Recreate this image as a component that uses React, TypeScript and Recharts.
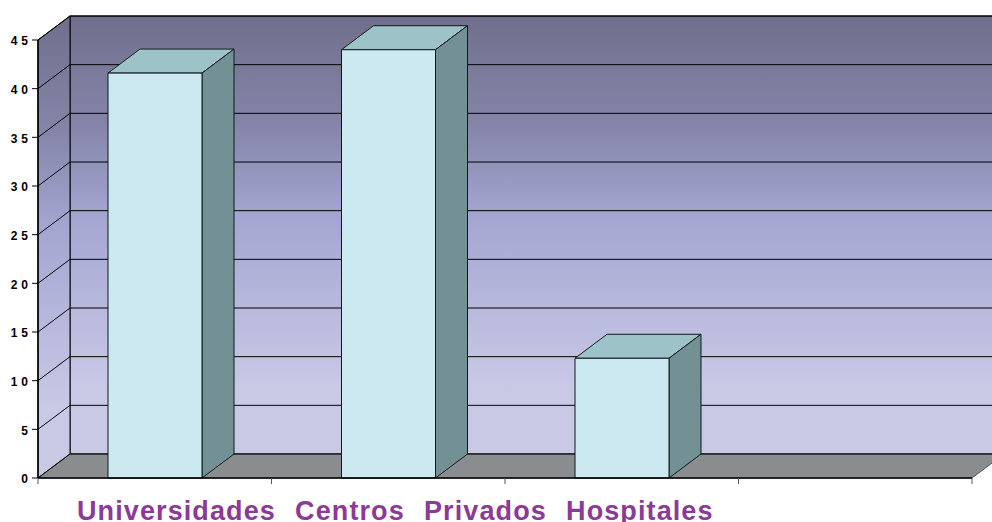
import { BarChart, Bar, XAxis, YAxis, CartesianGrid, ReferenceArea } from 'recharts';

const categories = ['Universidades', 'Centros  Privados', 'Hospitales', ''];
const counts = [41.6, 44, 12.3, null];
const yTicks = [0, 5, 10, 15, 20, 25, 30, 35, 40, 45];

const chartData = categories.map((name, i) => ({ name, count: counts[i] }));

const WIDTH = 992;
const HEIGHT = 522;
const LEFT = 38;
const RIGHT = 20;
const DEPTH_X = 32;
const DEPTH_Y = 24;
const BAND = (WIDTH - LEFT - RIGHT) / categories.length;

// back wall, left wall and floor of the 3D box
const Walls = ({ x, y, width, height }: any) => {
  const bottom = y + height;
  const right = x + width;
  return (
    <g>
      <defs>
        <linearGradient id="wall" x1="0" y1="0" x2="0" y2="1">
          <stop offset="0%" stopColor="#6f6f8c" />
          <stop offset="25%" stopColor="#8585a9" />
          <stop offset="45%" stopColor="#a3a5d1" />
          <stop offset="85%" stopColor="#c9c9e6" />
          <stop offset="100%" stopColor="#c9c9e6" />
        </linearGradient>
      </defs>
      <rect x={x + DEPTH_X} y={y - DEPTH_Y} width={width} height={height} fill="url(#wall)" stroke="#000" />
      <polygon
        points={`${x},${y} ${x + DEPTH_X},${y - DEPTH_Y} ${x + DEPTH_X},${bottom - DEPTH_Y} ${x},${bottom}`}
        fill="url(#wall)"
        stroke="#000"
      />
      <polygon
        points={`${x},${bottom} ${x + DEPTH_X},${bottom - DEPTH_Y} ${right + DEPTH_X},${bottom - DEPTH_Y} ${right},${bottom}`}
        fill="#8a8d90"
        stroke="#555"
      />
    </g>
  );
};

const GridLine = ({ x1, x2, y1 }: any) => (
  <polyline
    points={`${x1},${y1} ${x1 + DEPTH_X},${y1 - DEPTH_Y} ${x2 + DEPTH_X},${y1 - DEPTH_Y}`}
    fill="none"
    stroke="#000"
    strokeWidth={1}
  />
);

const Cuboid = ({ x, y, width, height }: any) => {
  if (!height) return null;
  const right = x + width;
  const bottom = y + height;
  return (
    <g stroke="#0d1a1c" strokeWidth={1} strokeLinejoin="round">
      <polygon
        points={`${x},${y} ${x + DEPTH_X},${y - DEPTH_Y} ${right + DEPTH_X},${y - DEPTH_Y} ${right},${y}`}
        fill="#9dc3c8"
      />
      <polygon
        points={`${right},${y} ${right + DEPTH_X},${y - DEPTH_Y} ${right + DEPTH_X},${bottom - DEPTH_Y} ${right},${bottom}`}
        fill="#739094"
      />
      <rect x={x} y={y} width={width} height={height} fill="#cce9f2" />
    </g>
  );
};

const CategoryTick = ({ x, y, index }: any) => (
  <g>
    <line x1={x - BAND / 2} x2={x - BAND / 2} y1={y - 8} y2={y - 2} stroke="#555" />
    {index === categories.length - 1 && (
      <line x1={x + BAND / 2} x2={x + BAND / 2} y1={y - 8} y2={y - 2} stroke="#555" />
    )}
    {index === 0 && (
      <text
        x={x - BAND / 2 + 39}
        y={y + 34}
        fill="#8b3a96"
        fontFamily="Liberation Sans"
        fontWeight="bold"
        fontSize={27}
        letterSpacing={1.1}
        wordSpacing={1}
        style={{ whiteSpace: 'pre' }}
      >
        {categories.join('  ').trim()}
      </text>
    )}
  </g>
);

export default function App() {
  return (
    <div style={{ position: 'absolute', left: 0, top: 0, width: WIDTH, height: HEIGHT, overflow: 'hidden' }}>
      <BarChart
        width={WIDTH}
        height={HEIGHT}
        data={chartData}
        margin={{ top: 40, right: RIGHT, bottom: 0, left: 0 }}
      >
        <ReferenceArea y1={0} y2={45} shape={<Walls />} zIndex={-200} ifOverflow="visible" />
        <CartesianGrid vertical={false} horizontal={(props: any) => <GridLine {...props} />} />
        <XAxis
          dataKey="name"
          height={44}
          interval={0}
          axisLine={{ stroke: '#000', strokeWidth: 1.5 }}
          tickLine={false}
          tick={<CategoryTick />}
        />
        <YAxis
          width={38}
          domain={[0, 45]}
          ticks={yTicks}
          interval={0}
          tickSize={6}
          tickMargin={0}
          axisLine={{ stroke: '#000', strokeWidth: 1.5 }}
          tickLine={{ stroke: '#000' }}
          tick={{ fill: '#000', fontSize: 12, fontWeight: 'bold', fontFamily: 'Liberation Sans', letterSpacing: 4, dy: 1 }}
        />
        <Bar dataKey="count" barSize={94} shape={<Cuboid />} isAnimationActive={false} />
      </BarChart>
    </div>
  );
}
